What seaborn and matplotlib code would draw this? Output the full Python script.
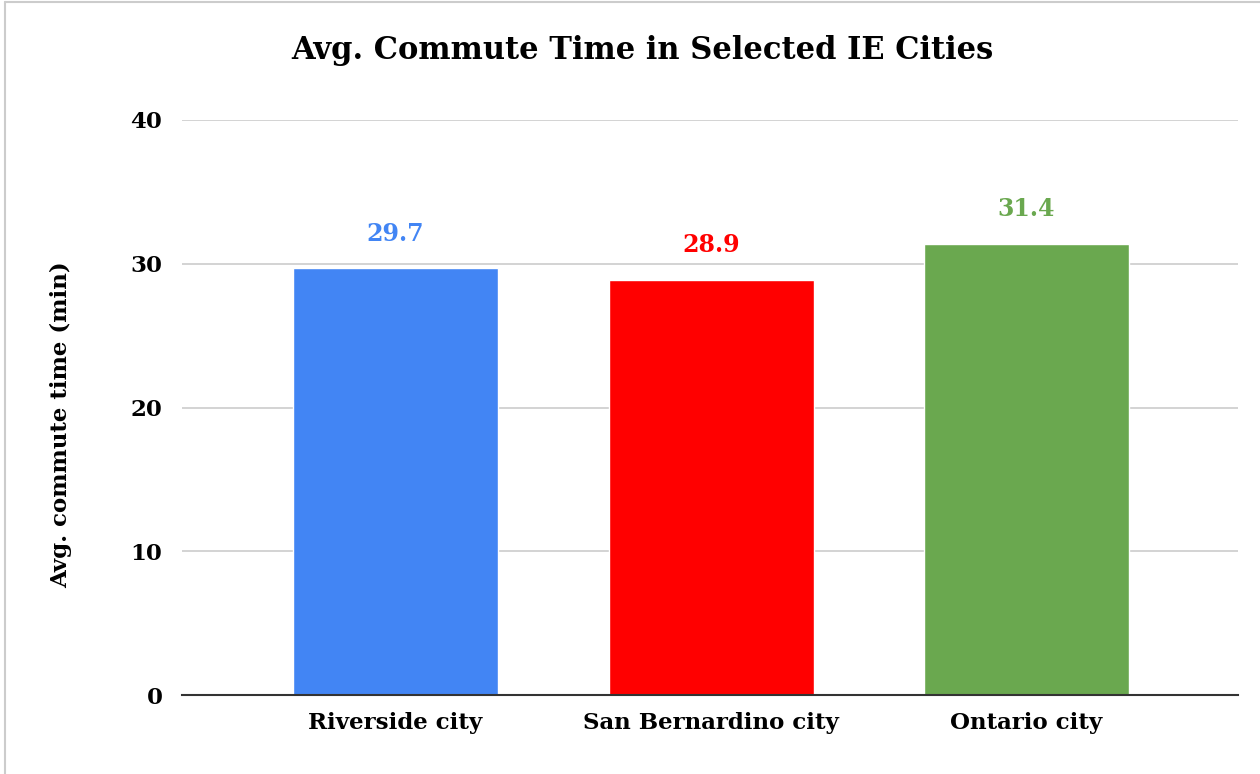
import matplotlib
matplotlib.use("Agg")
import matplotlib.pyplot as plt
import pandas as pd
import seaborn as sns
from matplotlib.lines import Line2D

# ---------------------------------------------------------------------------
# Data
# ---------------------------------------------------------------------------
cities = ["Riverside city", "San Bernardino city", "Ontario city"]
commute_min = [29.7, 28.9, 31.4]
bar_colors = ["#4285F4", "#FF0000", "#6AA84F"]
y_ticks = [0, 10, 20, 30, 40]

df = pd.DataFrame({"city": cities, "commute": commute_min})

sns.set_theme(style="white")
plt.rcParams["font.family"] = ["DejaVu Serif"]
plt.rcParams["font.weight"] = "bold"
plt.rcParams["text.color"] = "black"
plt.rcParams["xtick.color"] = "black"
plt.rcParams["ytick.color"] = "black"
plt.rcParams["axes.labelcolor"] = "black"

fig = plt.figure(figsize=(12.6, 7.74), dpi=100)
ax = fig.add_axes([0.1444, 0.102, 0.8381, 0.743])

sns.barplot(data=df, x="city", y="commute", hue="city",
            palette=dict(zip(cities, bar_colors)), width=0.65,
            legend=False, ax=ax, zorder=3, saturation=1)

ax.set_xlim(-0.677, 2.67)
ax.set_ylim(0, 40)
ax.set_yticks(y_ticks)
ax.yaxis.grid(True, color="#cccccc", linewidth=1.2, zorder=0)
ax.set_axisbelow(True)
for s in ["top", "right", "left"]:
    ax.spines[s].set_visible(False)
ax.spines["bottom"].set_color("#333333")
ax.spines["bottom"].set_linewidth(1.5)
ax.spines["bottom"].set_zorder(4)
ax.tick_params(axis="both", length=0, labelsize=16.5)
ax.tick_params(axis="y", pad=14)
ax.tick_params(axis="x", pad=12)
for lbl in ax.get_xticklabels() + ax.get_yticklabels():
    lbl.set_fontweight("bold")

ax.set_xlabel("")
ax.set_ylabel("Avg. commute time (min)", fontsize=16.5, fontweight="bold")
ax.yaxis.set_label_coords(-0.104, 0.47)

for i, (v, c) in enumerate(zip(commute_min, bar_colors)):
    ax.annotate(f"{v}", (i, v), xytext=(0, 16), textcoords="offset points",
                ha="center", va="bottom", color=c, fontsize=17,
                fontweight="bold")

fig.text(0.51, 0.935, "Avg. Commute Time in Selected IE Cities",
         ha="center", va="center", fontsize=22, fontweight="bold")

# light frame around the chart
fig.add_artist(Line2D([0.004, 0.004], [0, 0.997], color="#cccccc",
                      linewidth=1.5, transform=fig.transFigure))
fig.add_artist(Line2D([0.004, 1], [0.997, 0.997], color="#cccccc",
                      linewidth=1.5, transform=fig.transFigure))

fig.savefig("out.png", dpi=100)
